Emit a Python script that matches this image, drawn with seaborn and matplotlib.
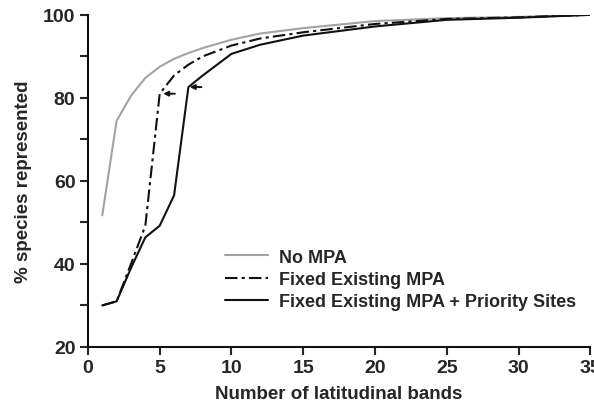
import matplotlib
matplotlib.use("Agg")
import matplotlib.pyplot as plt
import seaborn as sns
import pandas as pd
from matplotlib.ticker import MultipleLocator

bands = [1, 2, 3, 4, 5, 6, 7, 8, 10, 12, 15, 20, 25, 30, 35]
no_mpa = [51.7, 74.5, 80.5, 84.8, 87.5, 89.4, 90.8, 92.0, 94.0, 95.5, 96.8, 98.5, 99.2, 99.5, 100.0]
fixed_mpa = [30.0, 31.0, 40.0, 49.2, 81.0, 85.4, 88.0, 90.0, 92.6, 94.3, 95.8, 97.8, 99.0, 99.4, 100.0]
fixed_priority = [30.0, 31.0, 39.0, 46.4, 49.2, 56.5, 82.6, 85.4, 90.6, 92.8, 95.0, 97.2, 98.8, 99.3, 100.0]
series_names = ["No MPA", "Fixed Existing MPA", "Fixed Existing MPA + Priority Sites"]
arrow_x = [5.95, 7.8]
arrow_y = [81.0, 82.6]

sns.set_style("ticks")
plt.rcParams['font.family'] = ['Liberation Sans', 'DejaVu Sans']
plt.rcParams['font.weight'] = 'bold'

fig = plt.figure(figsize=(5.94, 4.06), dpi=100)
ax = fig.add_axes([0.148, 0.143, 0.846, 0.818])

df = pd.DataFrame({
    "x": bands * 3,
    "y": no_mpa + fixed_mpa + fixed_priority,
    "s": [series_names[0]] * len(bands) + [series_names[1]] * len(bands) + [series_names[2]] * len(bands),
})

colors = ["#a3a3a3", "#111111", "#111111"]
styles = ["-", (0, (6, 2, 1.5, 2)), "-"]
for name, c, ls in zip(series_names, colors, styles):
    sub = df[df["s"] == name]
    sns.lineplot(data=sub, x="x", y="y", ax=ax, color=c, linestyle=ls,
                 linewidth=1.5, label=name, sort=True)

for xa, ya in zip(arrow_x, arrow_y):
    ax.annotate("", xy=(xa - 0.9, ya), xytext=(xa + 0.3, ya),
                arrowprops=dict(arrowstyle="-|>", color="#111111", lw=1.4,
                                mutation_scale=7))

ax.set_xlim(0, 35)
ax.set_ylim(20, 100)
ax.xaxis.set_major_locator(MultipleLocator(5))
ax.yaxis.set_major_locator(MultipleLocator(20))
ax.yaxis.set_minor_locator(MultipleLocator(10))
ax.tick_params(axis="both", which="major", length=6, width=1.5, labelsize=14, direction="out", pad=3)
ax.tick_params(axis="y", which="minor", length=6, width=1.5, direction="out")
for lab in ax.get_xticklabels() + ax.get_yticklabels():
    lab.set_fontweight("bold")
for sp in ["top", "right"]:
    ax.spines[sp].set_visible(False)
for sp in ["left", "bottom"]:
    ax.spines[sp].set_linewidth(1.5)
    ax.spines[sp].set_color("#111111")

ax.set_xlabel("Number of latitudinal bands", fontsize=13.5, fontweight="bold", labelpad=6)
ax.set_ylabel("% species represented", fontsize=13.5, fontweight="bold", labelpad=8)

leg = ax.legend(loc="upper left", bbox_to_anchor=(0.24, 0.345), frameon=False,
                fontsize=13, handlelength=2.4, handletextpad=0.6, labelspacing=0.3)
for t in leg.get_texts():
    t.set_fontweight("bold")

fig.savefig("out.png", dpi=100)
